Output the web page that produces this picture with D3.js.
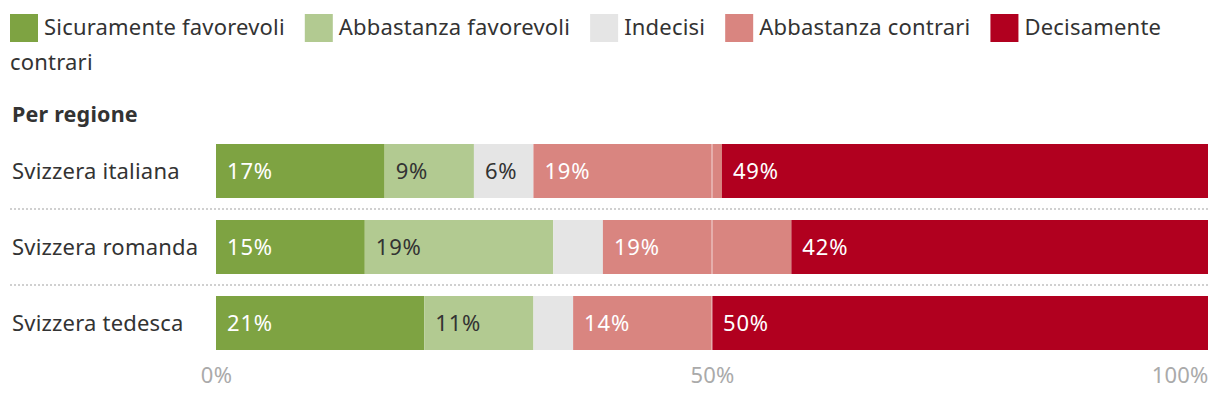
<!DOCTYPE html>
<html>
<head>
<meta charset="utf-8">
<script src="https://cdn.jsdelivr.net/npm/d3@7"></script>
<style>
  html, body { margin: 0; padding: 0; background: #fff; }
  svg { display: block; font-family: "Noto Sans", sans-serif; }
  svg text { letter-spacing: 0.2px; }
</style>
</head>
<body>
<svg id="chart" width="1220" height="398"></svg>
<script>
const categories = ["Sicuramente favorevoli", "Abbastanza favorevoli", "Indecisi", "Abbastanza contrari", "Decisamente contrari"];
const colors = ["#7ea342", "#b2ca91", "#e5e5e5", "#d98580", "#b1001f"];
const labelColors = ["#fff", "#333", "#333", "#fff", "#fff"];
const regions = ["Svizzera italiana", "Svizzera romanda", "Svizzera tedesca"];
const sicuramente = [17, 15, 21];
const abbastanzaFav = [9, 19, 11];
const indecisi = [6, 5, 4];
const abbastanzaContr = [19, 19, 14];
const decisamente = [49, 42, 50];
const tickValues = [0, 50, 100];
const tickLabels = ["0%", "50%", "100%"];
const sectionTitle = "Per regione";

const series = [sicuramente, abbastanzaFav, indecisi, abbastanzaContr, decisamente];
const rows = regions.map((r, i) => {
  const o = { region: r };
  categories.forEach((c, j) => o[c] = series[j][i]);
  return o;
});

const svg = d3.select("#chart");
const fontSize = 22;

// Legend (flowing, wraps words like inline text)
const legend = svg.append("g");
let lx = 10, ly = 0;
const lineH = 35, rightLimit = 1210;
const measure = svg.append("text").attr("font-size", fontSize).attr("visibility", "hidden");
function textW(t) { measure.text(t); return measure.node().getComputedTextLength(); }
categories.forEach((c, i) => {
  legend.append("rect").attr("x", lx).attr("y", 14 + ly).attr("width", 28).attr("height", 28).attr("fill", colors[i]);
  lx += 34;
  const words = c.split(" ");
  let cur = "";
  let startX = lx;
  words.forEach((w) => {
    const trial = cur ? cur + " " + w : w;
    if (startX + textW(trial) > rightLimit && cur) {
      legend.append("text").attr("x", startX).attr("y", 35 + ly).attr("font-size", fontSize).attr("fill", "#333").text(cur);
      ly += lineH; startX = 10; cur = w;
    } else cur = trial;
  });
  legend.append("text").attr("x", startX).attr("y", 35 + ly).attr("font-size", fontSize).attr("fill", "#333").text(cur);
  lx = startX + textW(cur) + 20;
});
measure.remove();

svg.append("text").attr("x", 12).attr("y", 122).attr("font-size", 21.5).attr("font-weight", 700)
  .attr("fill", "#333").text(sectionTitle);

const x = d3.scaleLinear().domain([0, 100]).range([216, 1208]);
const y = d3.scaleBand().domain(regions).range([133, 361]).paddingInner(22 / 76).paddingOuter(11 / 76);

const stack = d3.stack().keys(categories)(rows);

// separators
svg.append("g").selectAll("line").data(regions.slice(1)).join("line")
  .attr("x1", 10).attr("x2", 1208)
  .attr("y1", d => y(d) - (y.step() - y.bandwidth()) / 2)
  .attr("y2", d => y(d) - (y.step() - y.bandwidth()) / 2)
  .attr("stroke", "#d0d0d0").attr("stroke-width", 2).attr("stroke-dasharray", "2,2");

// row labels
svg.append("g").selectAll("text").data(regions).join("text")
  .attr("x", 12).attr("y", d => y(d) + y.bandwidth() / 2 + 7.5)
  .attr("font-size", fontSize).attr("fill", "#333").text(d => d);

const layers = svg.append("g").selectAll("g").data(stack).join("g")
  .attr("fill", (d, i) => colors[i]);
layers.selectAll("rect").data(d => d).join("rect")
  .attr("x", d => x(d[0])).attr("width", d => x(d[1]) - x(d[0]))
  .attr("y", d => y(d.data.region)).attr("height", y.bandwidth());

// 50% line over bars
svg.append("g").selectAll("line").data(regions).join("line")
  .attr("x1", x(50)).attr("x2", x(50))
  .attr("y1", d => y(d)).attr("y2", d => y(d) + y.bandwidth())
  .attr("stroke", "#fff").attr("stroke-opacity", 0.45).attr("stroke-width", 1.5);

// value labels
stack.forEach((layer, i) => {
  svg.append("g").selectAll("text").data(layer.filter(d => d[1] - d[0] >= 6)).join("text")
    .attr("x", d => x(d[0]) + 11).attr("y", d => y(d.data.region) + y.bandwidth() / 2 + 7.5)
    .attr("font-size", fontSize).attr("fill", labelColors[i]).style("letter-spacing", "0.8px")
    .text(d => (d[1] - d[0]) + "%");
});

// axis
const axis = d3.axisBottom(x).tickValues(tickValues).tickFormat((d, i) => tickLabels[i]).tickSize(0);
const ax = svg.append("g").attr("transform", "translate(0,361)").call(axis);
ax.select(".domain").remove();
ax.selectAll("text").attr("font-size", fontSize).attr("fill", "#aaa")
  .attr("font-family", "Noto Sans, sans-serif").attr("dy", 0).attr("y", 22)
  .attr("text-anchor", (d, i) => i === tickValues.length - 1 ? "end" : "middle");
</script>
</body>
</html>
